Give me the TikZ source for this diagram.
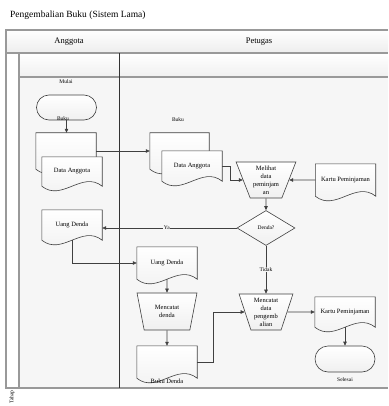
\documentclass[tikz,border=0pt]{standalone}
\usepackage{fontspec}
\setmainfont{Liberation Serif}
\usetikzlibrary{shapes.geometric,shapes.misc,arrows.meta,calc}
\pgfdeclarelayer{lanes}
\pgfdeclarelayer{bg}
\pgfsetlayers{lanes,bg,main}
\tikzset{
  linec/.style={draw=black!75, line width=0.6pt},
  shapefill/.style={top color=white, bottom color=black!6},
  txt/.style={font=\fontsize{6.5}{8}\selectfont, align=center, inner sep=0pt},
  lbl/.style={font=\fontsize{5.5}{6.5}\selectfont, inner sep=0.6pt},
  hdr/.style={font=\fontsize{8.5}{10}\selectfont, inner sep=0pt},
  docbox/.style={txt, rectangle, draw=none},
  terminator/.style={rounded rectangle, linec, shapefill, minimum width=60pt, minimum height=25pt, inner sep=0pt},
  manop/.style={trapezium, trapezium stretches=true, shape border rotate=180, linec, shapefill, txt},
  decision/.style={diamond, linec, shapefill, lbl, minimum width=58pt, minimum height=35pt},
  flow/.style={draw=black!75, line width=0.6pt, -{Triangle[length=4pt,width=3.5pt]}},
  laneline/.style={draw=gray!80, line width=1.5pt},
}
\newcommand\docdraw[1]{%
  \path[linec, shapefill] (#1.north west) -- (#1.north east) -- (#1.south east)
    .. controls ($(#1.south east)!0.333!(#1.south west)+(0,-16)$) and ($(#1.south east)!0.667!(#1.south west)+(0,16)$) .. (#1.south west) -- cycle;}
\begin{document}
\begin{tikzpicture}[x=1pt,y=-1pt]
\useasboundingbox (0,0) rectangle (388,406);
% ---- lanes ----
\begin{pgfonlayer}{lanes}
  \fill[gray!7] (19,77) rectangle (388,388);
  \shade[top color=white, bottom color=gray!14] (6,30) rectangle (388,53);
  \shade[top color=white, bottom color=gray!12] (19,53) rectangle (388,77);
  \fill[white] (6,53) rectangle (19,388);
  \draw[laneline] (388,30) -- (6,30) -- (6,388) -- (388,388);
  \draw[laneline] (6,53) -- (388,53);
  \draw[laneline] (19,77) -- (388,77);
  \draw[laneline] (19,53) -- (19,388);
  \draw[black!80, line width=0.6pt] (119,53) -- (119,388);
\end{pgfonlayer}
\node[font=\fontsize{9.5}{11}\selectfont, anchor=west, inner sep=0pt] (title) at (10,15) {Pengembalian Buku (Sistem Lama)};
\node[hdr] (hanggota) at (69,42) {Anggota};
\node[hdr] (hpetugas) at (259,42) {Petugas};
\node[lbl, rotate=90] (tahap) at (12,397) {Tahap};
% ---- nodes ----
\node[terminator] (mulai) at (66.5,107.5) {};
\node[lbl] (tmulai) at (66,82) {Mulai};
\node[docbox, minimum width=60pt, minimum height=36pt] (buku1) at (66,151) {};
\node[docbox, minimum width=60pt, minimum height=29pt] (da1) at (72,171.5) {Data Anggota};
\node[lbl] (tbuku1) at (63,119) {Buku};
\node[docbox, minimum width=59pt, minimum height=36pt] (buku2) at (179.5,151) {};
\node[docbox, minimum width=60pt, minimum height=30pt] (da2) at (192,166) {Data Anggota};
\node[lbl] (tbuku2) at (178,120) {Buku};
\node[manop, minimum width=60pt, minimum height=36pt, trapezium angle=68] (lihat) at (266,180) {Melihat\\data\\peminjam\\an};
\node[docbox, minimum width=60pt, minimum height=32pt] (kartu1) at (345.5,180) {Kartu Peminjaman};
\node[decision] (denda) at (266,228) {Denda?};
\node[docbox, minimum width=60pt, minimum height=30pt] (uang1) at (72,225) {Uang Denda};
\node[docbox, minimum width=60pt, minimum height=32pt] (uang2) at (167,263) {Uang Denda};
\node[manop, minimum width=60pt, minimum height=37pt, trapezium angle=73] (catat1) at (167,311.5) {Mencatat\\denda};
\node[docbox, minimum width=60pt, minimum height=32pt] (bdenda) at (167,362) {};
\node[txt] (tbdenda) at (167,381) {Buku Denda};
\node[manop, minimum width=54pt, minimum height=36pt, trapezium angle=71.5] (catat2) at (266,312) {Mencatat\\data\\pengemb\\alian};
\node[docbox, minimum width=60pt, minimum height=30pt] (kartu2) at (345,312) {Kartu Peminjaman};
\node[terminator, minimum height=26pt] (selesai) at (345,359) {};
\node[lbl] (tselesai) at (345,380) {Selesai};
% ---- document shapes ----
\begin{pgfonlayer}{bg}
  \docdraw{buku1}
  \docdraw{da1}
  \docdraw{buku2}
  \docdraw{da2}
  \docdraw{kartu1}
  \docdraw{uang1}
  \docdraw{uang2}
  \docdraw{bdenda}
  \docdraw{kartu2}
\end{pgfonlayer}
% ---- connectors ----
\draw[flow] (mulai.south) -- (mulai.south |- buku1.north);
\draw[flow] (buku1.east) -- (buku1.east -| buku2.west);
\draw[flow] (da2.east) -- ++(8,0) |- (lihat);
\draw[flow] (kartu1.west) -- (lihat);
\draw[flow] (lihat) -- (denda);
\draw[flow] (denda) -- node[lbl, fill=gray!7, pos=0.52] (tya) {Ya} (denda.west -| uang1.east);
\draw[flow] (uang1.south) |- (uang2);
\draw[flow] (uang2) -- (catat1);
\draw[flow] (catat1) -- (bdenda);
\draw[flow] (bdenda.east) -- ++(16,0) |- (catat2);
\draw[flow] (denda) -- node[lbl, fill=gray!7] (ttidak) {Tidak} (catat2);
\draw[flow] (catat2) -- (kartu2);
\draw[flow] (kartu2.south) -- (selesai);
\end{tikzpicture}
\end{document}
